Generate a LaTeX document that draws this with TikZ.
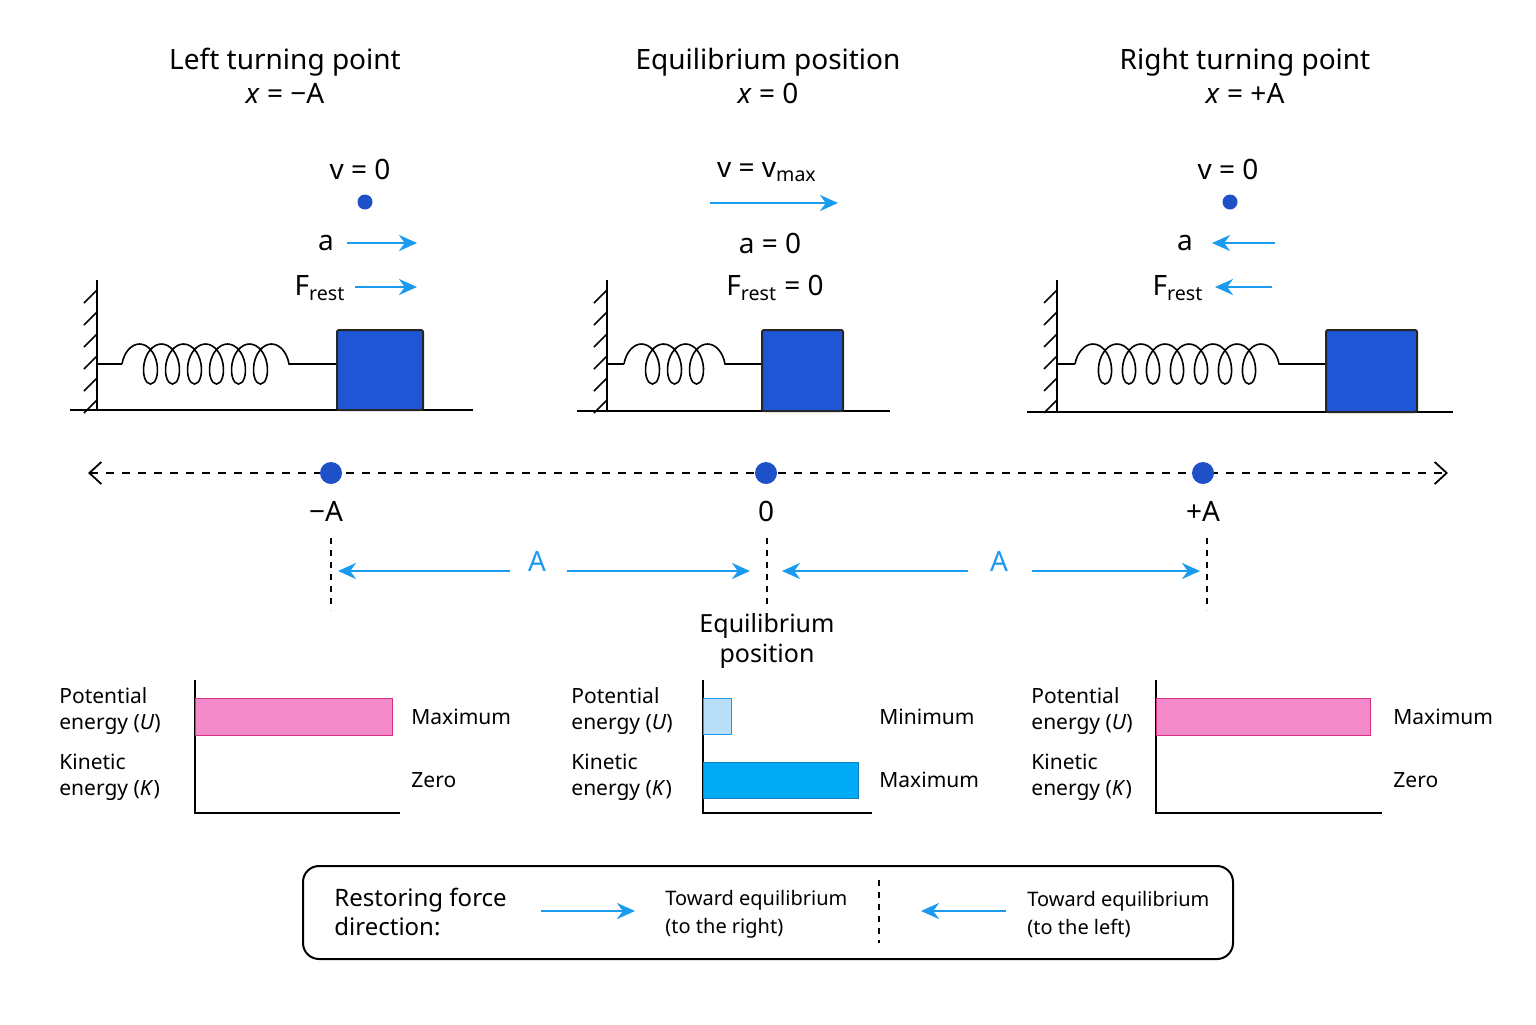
\documentclass[tikz,border=0pt]{standalone}
\usepackage{fontspec}
\setmainfont{Noto Sans}
\usetikzlibrary{positioning,arrows.meta,decorations.pathmorphing,patterns}
\definecolor{arrowblue}{HTML}{1A9BEF}
\definecolor{massblue}{HTML}{1E56D6}
\definecolor{dotblue}{HTML}{1E50C8}
\definecolor{pinkfill}{HTML}{F38AC9}
\definecolor{pinkline}{HTML}{D6307F}
\definecolor{lightbar}{HTML}{B8DEF8}
\definecolor{kinbar}{HTML}{00AAF5}
\tikzset{
    bigtext/.style={font=\fontsize{14}{17}\selectfont, align=center},
    smalltext/.style={font=\fontsize{10.5}{13}\selectfont, align=left, inner sep=0pt},
    blueArrow/.style={arrowblue, line width=1.4pt, -{Stealth[length=9pt,width=8pt]}},
    massbox/.style={draw=black!85, line width=1pt, fill=massblue, rounded corners=1pt},
    springcoil/.style={decorate, decoration={coil, aspect=0.6, amplitude=10pt, segment length=#1}, line width=0.8pt},
    posdot/.style={circle, fill=dotblue, inner sep=0pt, minimum size=11pt},
    veldot/.style={circle, fill=dotblue, inner sep=0pt, minimum size=7.5pt}
}
\begin{document}
\begin{tikzpicture}[x=0.5pt, y=-0.5pt]
    \useasboundingbox (0,0) rectangle (1536,1024);
    % titles
    \node[bigtext] (tleft) at (285,76) {Left turning point\\\textit{x} = −A};
    \node[bigtext] (tmid) at (768,76) {Equilibrium position\\\textit{x} = 0};
    \node[bigtext] (tright) at (1245,76) {Right turning point\\\textit{x} = +A};
    % left state
    \node[bigtext] (vleft) at (360,169) {v = 0};
    \node[veldot] (vdleft) at (365,202) {};
    \node[bigtext] (aleft) at (326,243) {a};
    \coordinate (aleftA) at (347,243); \coordinate (aleftB) at (417,243);
    \draw[blueArrow] (aleftA) -- (aleftB);
    \node[bigtext] (fleft) at (320,288) {F\textsubscript{rest}};
    \coordinate (fleftA) at (355,287); \coordinate (fleftB) at (417,287);
    \draw[blueArrow] (fleftA) -- (fleftB);
    % middle state
    \node[bigtext] (vmid) at (767,172) {v = v\textsubscript{max}};
    \coordinate (vmidA) at (710,203); \coordinate (vmidB) at (838,203);
    \draw[blueArrow] (vmidA) -- (vmidB);
    \node[bigtext] (amid) at (770,243) {a = 0};
    \node[bigtext] (fmid) at (775,288) {F\textsubscript{rest} = 0};
    % right state
    \node[bigtext] (vright) at (1228,169) {v = 0};
    \node[veldot] (vdright) at (1230,202) {};
    \node[bigtext] (aright) at (1185,243) {a};
    \coordinate (arightA) at (1275,243); \coordinate (arightB) at (1212,243);
    \draw[blueArrow] (arightA) -- (arightB);
    \node[bigtext] (fright) at (1178,288) {F\textsubscript{rest}};
    \coordinate (frightA) at (1272,287); \coordinate (frightB) at (1215,287);
    \draw[blueArrow] (frightA) -- (frightB);
    % walls, ground, springs, masses
    \foreach \wx/\gl/\gr/\gy/\sa/\sb/\seg/\ml/\mr in {97/70/473/410/122/290/11pt/337/423, 607/577/890/411/624/745/11pt/762/843, 1057/1027/1453/412/1075/1300/12pt/1326/1417}{
        \draw[line width=1pt] (\wx,280) -- (\wx,\gy);
        \foreach \hy in {290,312,...,400} \draw[line width=0.8pt] (\wx,\hy) -- ++(-13,13);
        \draw[line width=1pt] (\gl,\gy) -- (\gr,\gy);
        \draw[line width=0.8pt] (\wx,364) -- (\sa,364);
        \draw[springcoil=\seg] (\sa,364) -- (\sb,364);
        \draw[line width=0.8pt] (\sb,364) -- (\ml,364);
        \draw[massbox] (\ml,330) rectangle (\mr,\gy);
    }
    % position axis
    \coordinate (axL) at (88,473); \coordinate (axR) at (1448,473);
    \draw[dashed, line width=0.9pt, dash pattern=on 4pt off 4pt, {Straight Barb[length=6pt,width=11pt]}-{Straight Barb[length=6pt,width=11pt]}] (axL) -- (axR);
    \node[posdot] (pleft) at (331,473) {};
    \node[posdot] (pmid) at (766,473) {};
    \node[posdot] (pright) at (1203,473) {};
    \node[bigtext] (lleft) at (326,511) {−A};
    \node[bigtext] (lmid) at (766,511) {0};
    \node[bigtext] (lright) at (1203,511) {+A};
    \foreach \dx in {331,767,1207} \draw[dashed, line width=0.8pt] (\dx,538) -- (\dx,610);
    % amplitude markers
    \node[bigtext, text=arrowblue] (amp1) at (537,561) {A};
    \node[bigtext, text=arrowblue] (amp2) at (999,561) {A};
    \coordinate (a1L) at (338,571); \coordinate (a1R) at (750,571);
    \coordinate (a2L) at (782,571); \coordinate (a2R) at (1200,571);
    \draw[blueArrow] (510,571) -- (a1L);
    \draw[blueArrow] (567,571) -- (a1R);
    \draw[blueArrow] (968,571) -- (a2L);
    \draw[blueArrow] (1032,571) -- (a2R);
    \node[font=\fontsize{12.5}{15}\selectfont, align=center] (eqlab) at (767,641) {Equilibrium\\position};
    % energy bars
    \foreach \bx/\lx/\ex/\rx/\ta/\tb in {195/59/400/411/Maximum/Zero, 703/571/872/879/Minimum/Maximum, 1156/1031/1382/1393/Maximum/Zero}{
        \draw[line width=1pt] (\bx,680) -- (\bx,813) -- (\ex,813);
        \node[smalltext, anchor=west] at (\lx,711) {Potential\\energy (\textit{U})};
        \node[smalltext, anchor=west] at (\lx,777) {Kinetic\\energy (\textit{K})};
        \node[smalltext, anchor=west] at (\rx,717) {\ta};
        \node[smalltext, anchor=west] at (\rx,780) {\tb};
    }
    \draw[draw=pinkline, fill=pinkfill] (195,698) rectangle (392,735);
    \draw[draw=pinkline, fill=pinkfill] (1156,698) rectangle (1370,735);
    \draw[draw=arrowblue, fill=lightbar] (703,698) rectangle (731,734);
    \draw[draw=arrowblue!80!black, fill=kinbar] (703,762) rectangle (858,798);
    % restoring force legend
    \draw[line width=1pt, rounded corners=8pt] (303,866) rectangle (1233,959);
    \node[font=\fontsize{12}{14.5}\selectfont, align=left, anchor=west, inner sep=0pt] (rest) at (334,912) {Restoring force\\direction:};
    \coordinate (rA) at (541,911); \coordinate (rB) at (635,911);
    \draw[blueArrow] (rA) -- (rB);
    \node[smalltext, font=\fontsize{10}{14}\selectfont, anchor=west] (tright2) at (665,914) {Toward equilibrium\\(to the right)};
    \draw[dashed, line width=0.8pt] (879,880) -- (879,943);
    \coordinate (lA) at (1006,911); \coordinate (lB) at (921,911);
    \draw[blueArrow] (lA) -- (lB);
    \node[smalltext, font=\fontsize{10}{14}\selectfont, anchor=west] (tleft2) at (1027,914) {Toward equilibrium\\(to the left)};
\end{tikzpicture}
\end{document}
